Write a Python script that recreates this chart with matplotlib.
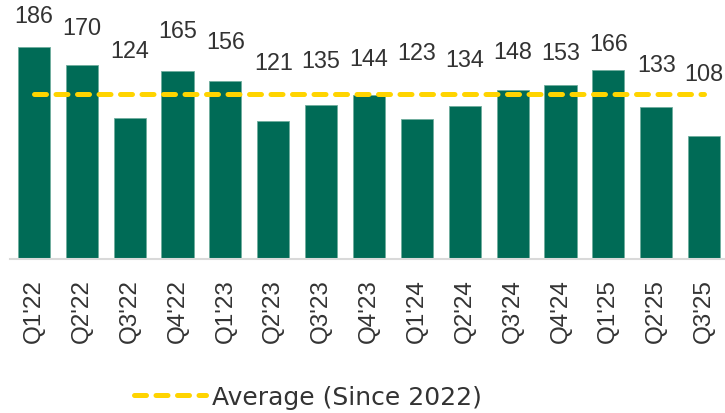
import matplotlib
matplotlib.use("Agg")
import matplotlib.pyplot as plt
from matplotlib.lines import Line2D

# Data
quarters = ["Q1'22", "Q2'22", "Q3'22", "Q4'22", "Q1'23", "Q2'23", "Q3'23", "Q4'23",
            "Q1'24", "Q2'24", "Q3'24", "Q4'24", "Q1'25", "Q2'25", "Q3'25"]
values = [186, 170, 124, 165, 156, 121, 135, 144, 123, 134, 148, 153, 166, 133, 108]

# label lift above each bar top (pixels), as placed in the original
label_lift = [31, 38, 67, 40, 40, 59, 45, 36, 66, 47, 39, 32, 26, 43, 62]

GREEN = "#006B56"
YELLOW = "#FFD400"
TEXT = "#333333"

avg = sum(values) / len(values)

fig = plt.figure(figsize=(7.25, 4.14), dpi=100)
ax = fig.add_axes([10 / 725, 1 - 260 / 414, 718 / 725, 260 / 414])

x = list(range(len(values)))
ax.bar(x, values, width=0.67, color=GREEN, edgecolor="#6fae9d", linewidth=0.6, zorder=2)
ax.plot([0, len(values) - 1], [avg, avg], color=YELLOW, lw=3.6,
        ls=(0, (2.4, 1.9)), dash_capstyle="round", zorder=3)

for xi, v, lift in zip(x, values, label_lift):
    ax.annotate(str(v), (xi, v), xytext=(0, lift), textcoords="offset pixels",
                ha="center", va="center", fontsize=16.8, color=TEXT,
                family="Liberation Sans", annotation_clip=False)

ax.set_xlim(-0.5, 14.5)
ax.set_ylim(0, 228)
ax.set_xticks(x)
ax.set_xticklabels(quarters, rotation=90, fontsize=17.5, color=TEXT, family="Liberation Sans")
ax.tick_params(axis="x", length=0, pad=14)
ax.set_yticks([])
for side in ["top", "right", "left"]:
    ax.spines[side].set_visible(False)
ax.spines["bottom"].set_color("#d9d9d9")
ax.spines["bottom"].set_linewidth(1.5)

handle = Line2D([], [], color=YELLOW, lw=3.6, ls=(0, (2.4, 1.9)), dash_capstyle="round")
fig.legend([handle], ["Average (Since 2022)"], loc="center", bbox_to_anchor=(0.425, 0.039),
           frameon=False, handlelength=2.85, handletextpad=0.25,
           prop={"family": "DejaVu Sans", "size": 18}, labelcolor=TEXT)

fig.savefig("out.png", dpi=100)
